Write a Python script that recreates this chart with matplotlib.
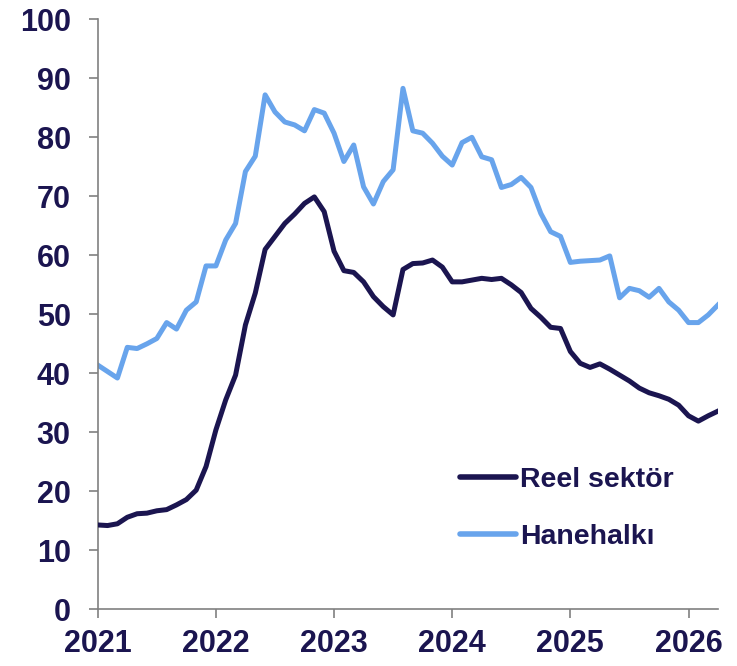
import matplotlib
matplotlib.use("Agg")
import matplotlib.pyplot as plt
import numpy as np

plt.rcParams['font.family'] = ['Liberation Sans', 'DejaVu Sans']

start_year = 2021
reel_sektor = [14.3, 14.2, 14.5, 15.6, 16.2, 16.3, 16.7, 16.9, 17.7, 18.6, 20.2, 24.2,
               30.4, 35.5, 39.7, 48.2, 53.6, 61.0, 63.2, 65.4, 67.0, 68.8, 69.9, 67.4,
               60.7, 57.4, 57.1, 55.5, 53.0, 51.3, 49.9, 57.6, 58.6, 58.7, 59.2, 58.0,
               55.5, 55.5, 55.8, 56.1, 55.9, 56.1, 55.0, 53.7, 51.0, 49.5, 47.8, 47.6,
               43.7, 41.7, 41.0, 41.6, 40.7, 39.7, 38.7, 37.5, 36.7, 36.2, 35.6, 34.6,
               32.8, 31.9, 32.8, 33.6]
hanehalki = [41.4, 40.3, 39.2, 44.4, 44.2, 45.0, 45.9, 48.6, 47.5, 50.7, 52.1, 58.2,
             58.2, 62.6, 65.4, 74.2, 76.8, 87.2, 84.3, 82.6, 82.1, 81.1, 84.7, 84.1,
             80.7, 75.9, 78.7, 71.6, 68.7, 72.5, 74.5, 88.3, 81.1, 80.7, 79.0, 76.8,
             75.3, 79.1, 80.0, 76.7, 76.2, 71.5, 72.0, 73.2, 71.5, 67.1, 64.0, 63.2,
             58.8, 59.0, 59.1, 59.2, 59.9, 52.8, 54.4, 54.0, 52.9, 54.4, 52.1, 50.7,
             48.6, 48.6, 49.9, 51.6]
series_labels = ["Reel sektör", "Hanehalkı"]
year_ticks = [2021, 2022, 2023, 2024, 2025, 2026]
y_ticks = [0, 10, 20, 30, 40, 50, 60, 70, 80, 90, 100]

x = start_year + np.arange(len(reel_sektor)) / 12.0

navy = '#1b1550'
light = '#68a4ec'
gray = '#808080'

fig = plt.figure(figsize=(7.37, 6.66), dpi=100)
ax = fig.add_axes([0.1326, 0.0851, 0.8417, 0.8859])

ax.plot(x, reel_sektor, color=navy, lw=3.6, solid_joinstyle='round', label=series_labels[0], zorder=3)
ax.plot(x, hanehalki, color=light, lw=3.6, solid_joinstyle='round', label=series_labels[1], zorder=2)

ax.set_xlim(start_year, x[-1])
ax.set_ylim(0, 100)
ax.set_xticks(year_ticks)
ax.set_xticklabels([str(t) for t in year_ticks])
ax.set_yticks(y_ticks)

for s in ['top', 'right']:
    ax.spines[s].set_visible(False)
for s in ['left', 'bottom']:
    ax.spines[s].set_color(gray)
    ax.spines[s].set_linewidth(1.2)

ax.tick_params(axis='both', direction='out', length=6.5, width=1.2, color=gray,
               labelcolor=navy, labelsize=22)
ax.tick_params(axis='x', pad=8)
ax.tick_params(axis='y', pad=13)
for lab in ax.get_xticklabels() + ax.get_yticklabels():
    lab.set_fontweight('bold')

leg = ax.legend(loc='upper left', bbox_to_anchor=(0.584, 0.241), frameon=False,
                prop={'weight': 'bold', 'size': 20.5}, handlelength=1.95,
                handletextpad=0.15, labelspacing=1.07, borderaxespad=0,
                borderpad=0)
for t in leg.get_texts():
    t.set_color(navy)
for h in leg.get_lines():
    h.set_linewidth(4.0)
    h.set_solid_capstyle('round')

fig.savefig('out.png', dpi=100)
